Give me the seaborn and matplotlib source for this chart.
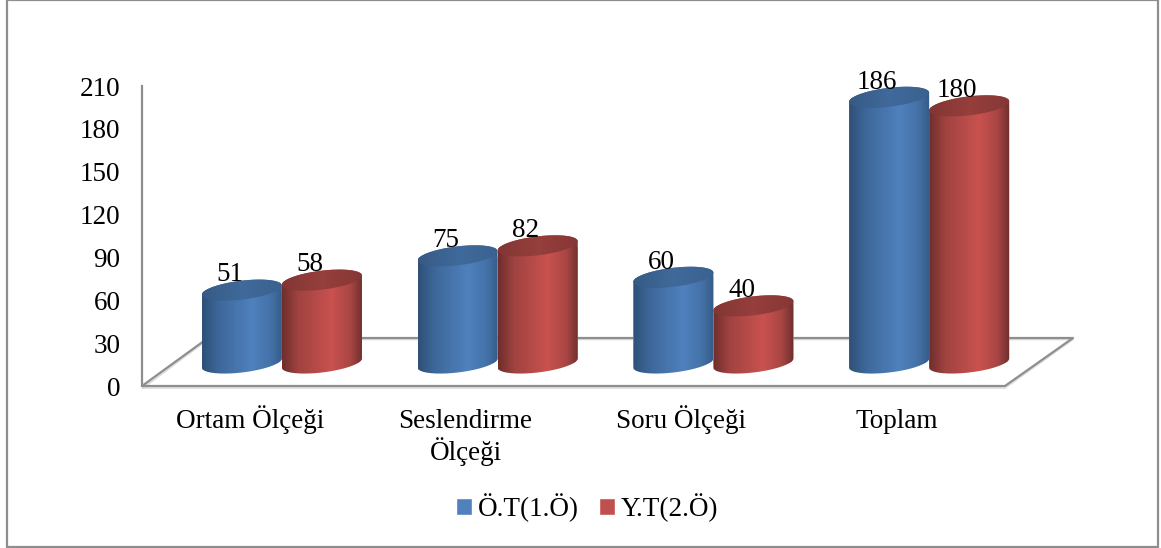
import numpy as np
import pandas as pd
import seaborn as sns
import matplotlib
matplotlib.use('Agg')
import matplotlib.pyplot as plt
from matplotlib.colors import LinearSegmentedColormap
from matplotlib.patches import Polygon, Rectangle
from matplotlib.transforms import ScaledTranslation

# Chart values
categories = ['Ortam Ölçeği', 'Seslendirme\nÖlçeği', 'Soru Ölçeği', 'Toplam']
series_names = ['Ö.T(1.Ö)', 'Y.T(2.Ö)']
ot_values = [51, 75, 60, 186]
yt_values = [58, 82, 40, 180]
y_ticks = [0, 30, 60, 90, 120, 150, 180, 210]

W, H = 1161, 548
GREY = '#8E8E8E'
FONT_SIZE = 19.5

sns.set_theme(style='white')
plt.rcParams['font.family'] = ['Liberation Serif', 'DejaVu Serif']

df = pd.DataFrame({
    'olcek': categories * 2,
    'deger': ot_values + yt_values,
    'test': [series_names[0]] * 4 + [series_names[1]] * 4,
})


def px_axes(fig, left, top, right, bottom):
    return fig.add_axes([left / W, 1 - bottom / H, (right - left) / W, (bottom - top) / H])


fig = plt.figure(figsize=(W / 100, H / 100), dpi=100, facecolor='white')

# frame and floor, in picture pixels
bg = fig.add_axes([0, 0, 1, 1])
bg.set_xlim(0, W)
bg.set_ylim(H, 0)
bg.axis('off')
bg.add_patch(Rectangle((7, 0), 1151, 546.5, fill=False, ec=GREY, lw=1.6))
bg.plot([143, 208, 1073, 1005, 143], [388, 339.5, 339.5, 388, 388], color='#DCDCDC', lw=1.2)
bg.plot([142, 208, 1073, 1005, 142], [386, 338, 338, 386, 386], color=GREY, lw=1.6)

# front plane: holds the value and category ticks
ax = px_axes(fig, 142, 86, 1005, 386)
ax.set_xlim(-0.5, 3.5)
ax.set_ylim(0, 210)
ax.patch.set_alpha(0)
ax.set_yticks(y_ticks)
ax.set_xticks(range(4))
ax.set_xticklabels(categories, fontsize=FONT_SIZE, linespacing=1.12, va='baseline')
ax.tick_params(axis='y', length=0, pad=15.5, labelsize=FONT_SIZE, labelcolor='black')
ax.tick_params(axis='x', length=0, pad=30, labelcolor='black')
# baseline alignment uses the last line, so push the two-line label down
two_line = ax.get_xticklabels()[1]
two_line.set_transform(two_line.get_transform() + ScaledTranslation(0, -32 / 100, fig.dpi_scale_trans))
for side in ['top', 'right', 'bottom']:
    ax.spines[side].set_visible(False)
ax.spines['left'].set_color(GREY)
ax.spines['left'].set_linewidth(1.6)

# back plane: cylinders stand here, same scale as the front plane
# the axes reach 30 px under zero so the rounded bottoms are not cut
Y_LOW = -21
ax_bars = px_axes(fig, 174, 63, 1037, 393)
sns.barplot(data=df, x='olcek', y='deger', hue='test', order=categories,
            palette=['#4F81BD', '#C0504D'], width=0.742, gap=0, saturation=1,
            ax=ax_bars)
ax_bars.set_xlim(-0.5, 3.5)
ax_bars.set_ylim(Y_LOW, 210)
ax_bars.axis('off')
handles, labels = ax_bars.get_legend_handles_labels()
ax_bars.get_legend().remove()

px_y = 300 / 210
ELL_H = 9.5 / px_y
LEAN = 4.6 / px_y

side_cmaps = [
    LinearSegmentedColormap.from_list('b', [(0, '#2F5077'), (0.2, '#3D6799'), (0.62, '#4F81BD'), (0.85, '#4472A8'), (1, '#355B88')]),
    LinearSegmentedColormap.from_list('r', [(0, '#6F2E2C'), (0.2, '#A04341'), (0.62, '#C9524F'), (0.85, '#A84644'), (1, '#6E2E2C')]),
]
top_cmaps = [
    LinearSegmentedColormap.from_list('bt', ['#365A84', '#406A9B', '#3A6290']),
    LinearSegmentedColormap.from_list('rt', ['#833634', '#963F3C', '#853735']),
]
ramp = np.linspace(0, 1, 128).reshape(1, -1)
t_top = np.linspace(0, np.pi, 60)
t_low = np.linspace(np.pi, 2 * np.pi, 60)

z = 3
for i, container in enumerate(ax_bars.containers):
    for bar, value in zip(container, [ot_values, yt_values][i]):
        x0, w = bar.get_x(), bar.get_width()
        cx, half = x0 + w / 2, w / 2

        def ring(t, base):
            return np.column_stack([cx + half * np.cos(t),
                                    base + ELL_H * np.sin(t) + LEAN * np.cos(t)])

        body = Polygon(np.vstack([ring(t_low, 0), ring(t_top, value)]),
                       closed=True, transform=ax_bars.transData, fc='none', ec='none')
        cap = Polygon(np.vstack([ring(t_low, value), ring(t_top, value)]),
                      closed=True, transform=ax_bars.transData, fc='none', ec='none')
        ax_bars.add_patch(body)
        ax_bars.add_patch(cap)
        bar.set_zorder(z)
        bar.set_clip_path(body)
        im = ax_bars.imshow(ramp, cmap=side_cmaps[i], extent=(x0, x0 + w, Y_LOW, value + 20),
                            aspect='auto', interpolation='bilinear', zorder=z + 0.1)
        im.set_clip_path(body)
        im2 = ax_bars.imshow(ramp, cmap=top_cmaps[i], extent=(x0, x0 + w, value - 20, value + 20),
                             aspect='auto', interpolation='bilinear', zorder=z + 0.2)
        im2.set_clip_path(cap)
        ax_bars.annotate(str(value), (cx, value), xytext=(-8.5, 11), textcoords='offset points',
                         ha='center', va='center', fontsize=FONT_SIZE, color='black', zorder=50)
        z += 1
ax_bars.set_xlim(-0.5, 3.5)
ax_bars.set_ylim(Y_LOW, 210)

leg = fig.legend(handles, labels, loc='center', bbox_to_anchor=(587 / W, 1 - 508 / H), ncol=2,
                 frameon=False, fontsize=FONT_SIZE, handlelength=0.6, handleheight=0.6,
                 handletextpad=0.2, columnspacing=0.75, borderpad=0, labelcolor='black')

fig.savefig('out.png', dpi=100)
